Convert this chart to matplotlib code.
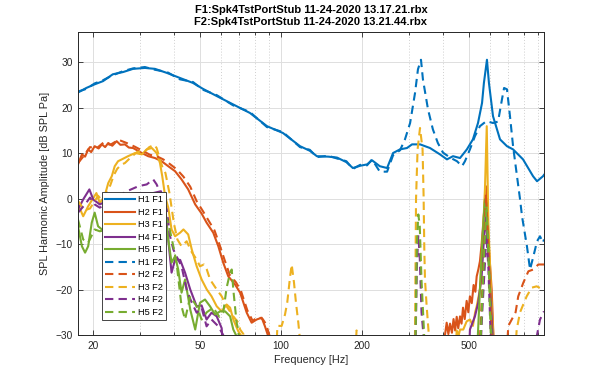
import matplotlib
matplotlib.use("Agg")
import matplotlib.pyplot as plt
from matplotlib.ticker import FixedLocator, NullFormatter, FixedFormatter

plt.rcParams['font.family'] = ['Liberation Sans', 'DejaVu Sans']

# ---------------- data (frequency [Hz], amplitude [dB]) ----------------
h1f1_f = [17.6, 18.9, 20.3, 21.8, 23.7, 25.9, 28.2, 31.2, 34.0, 37.7, 42.1, 47.1, 51.3, 57.8, 66.3, 76.7, 88.7, 101.7, 117.7, 128, 136, 150, 161.5, 175, 185, 197, 209, 218, 233, 248, 261, 277, 294, 307, 329, 358, 390, 414, 436, 463, 491, 517, 540, 559, 568, 583, 593, 614, 652, 692, 729, 794, 865, 895, 942, 950]
h1f1_v = [23.3, 24.3, 25.1, 25.8, 27.3, 27.8, 28.5, 28.7, 28.5, 27.6, 26.5, 25.4, 24.1, 22.5, 20.7, 18.8, 15.9, 14.4, 11.5, 10.5, 9.3, 9.2, 9.0, 8.0, 6.7, 7.2, 7.5, 8.4, 7.1, 6.7, 10.0, 10.8, 11.1, 11.9, 11.9, 11.1, 9.7, 8.6, 9.3, 8.9, 10.8, 13.0, 16.6, 21.0, 25.4, 30.5, 25.4, 18.1, 13.0, 11.5, 10.8, 8.6, 4.9, 3.8, 4.9, 5.2]

h1f2_f = [17.6, 18.9, 20.3, 21.8, 23.7, 25.9, 28.2, 31.2, 34.0, 37.7, 42.1, 47.1, 51.3, 57.8, 66.3, 76.7, 88.7, 101.7, 117.7, 128, 136, 150, 161.5, 175, 185, 197, 209, 218, 233, 248, 261, 277, 289, 302, 315, 323, 331.5, 337, 352, 367, 383, 400, 425, 451, 471, 483, 504, 526, 549, 580, 614, 641, 663, 675, 692, 710, 729, 754, 774, 787, 821, 843, 865, 880, 895, 918, 942, 950]
h1f2_v = [23.5, 24.1, 25.3, 26.0, 27.1, 28.0, 28.6, 28.9, 28.3, 27.8, 26.2, 25.6, 23.9, 22.7, 20.5, 19.0, 15.7, 14.6, 11.3, 10.7, 9.1, 9.4, 8.8, 8.2, 6.5, 7.4, 7.3, 8.6, 5.9, 5.9, 9.5, 10.6, 13.0, 16.6, 23.2, 28.4, 30.5, 26.2, 19.6, 15.2, 12.2, 10.1, 9.0, 8.2, 7.1, 8.2, 10.8, 13.7, 15.9, 17.0, 16.6, 16.9, 21.8, 24.3, 24.0, 18.1, 11.5, 4.9, -0.2, -3.9, -10.5, -15.6, -13.0, -11.2, -9.4, -8.3, -9.7, -9.0]

h2f1_f = [17.6, 18.2, 18.7, 19.2, 19.7, 20.3, 21.0, 21.6, 22.2, 22.8, 23.6, 24.5, 25.3, 26.3, 27.2, 28.2, 30.4, 32.1, 34.0, 36.0, 38.1, 40.4, 42.7, 45.2, 48.0, 50.7, 52.9, 56.0, 58.5, 61.0, 63.7, 67.5, 70.5, 74.6, 77.8, 81.2, 84.8, 87.2, 89.7, 92, 400, 407, 413, 419, 425, 432, 438, 444, 450, 456, 463, 469, 475, 482, 490, 497, 504, 512, 520, 528, 534, 542, 549, 557, 565, 578, 590, 607, 616, 625]
h2f1_v = [7.5, 9.7, 9.2, 10.8, 10.2, 11.5, 11.0, 11.9, 11.3, 12.2, 11.6, 12.6, 11.8, 11.9, 11.2, 11.1, 10.0, 9.3, 8.9, 8.2, 7.1, 6.0, 4.2, 2.0, -1.3, -3.3, -5.3, -7.5, -10.5, -14.1, -17.1, -18.9, -20.7, -25.1, -27.3, -26.6, -26.2, -28.1, -30.3, -40, -40, -30, -27.3, -29.8, -27.5, -29.5, -26.5, -29, -26, -28.5, -25.9, -27.5, -24, -26.5, -22.5, -25, -21.5, -23, -19, -20.5, -17.1, -15.5, -13.8, -10, -5.3, 2.7, -9, -20, -30, -40]

h2f2_f = [17.6, 18.4, 19.5, 20.6, 21.9, 23.2, 24.9, 26.7, 28.6, 30.8, 32.6, 34.5, 36.5, 38.6, 41.0, 43.4, 46.0, 48.6, 51.3, 53.5, 56.6, 59.0, 61.8, 64.5, 68.0, 71.0, 75.0, 78.5, 82.0, 85.5, 88.0, 90.5, 93, 540, 555, 568, 578, 590, 602, 615, 680, 700, 745, 762, 796, 831, 867, 905, 950]
h2f2_v = [7.8, 9.2, 11.3, 11.0, 12.3, 11.8, 12.9, 12.2, 11.4, 10.4, 9.6, 9.3, 8.6, 7.6, 6.4, 4.8, 2.6, -0.6, -2.8, -4.6, -7.0, -10.0, -13.6, -16.8, -18.4, -20.3, -24.6, -26.9, -26.0, -26.5, -27.6, -30.0, -40, -40, -25, -12, 1.0, -10, -24, -40, -40, -28, -25, -21.5, -18.5, -16, -15.6, -14.5, -14.5]

h3f1_f = [17.6, 18.4, 19.2, 20.6, 21.2, 22.1, 22.8, 23.5, 24.1, 24.8, 25.6, 27.0, 28.7, 30.4, 31.7, 33.1, 34.5, 35.5, 36.2, 37.1, 38.1, 39.2, 40.4, 42.2, 43.4, 45.2, 46.6, 48.6, 50.7, 53.0, 55.2, 57.7, 60.2, 62.8, 64.7, 66.5, 69.4, 71.4, 74, 440, 450, 458, 463, 476, 490, 504, 517, 527, 534, 549, 562, 573, 582, 590, 607, 616, 625]
h3f1_v = [-1.3, -3.9, -1.7, 1.2, -1.0, 0.5, 3.4, 4.9, 7.1, 8.2, 8.6, 9.3, 10.0, 9.7, 10.8, 11.1, 10.0, 7.8, 4.9, 0.5, -2.0, -6.8, -8.3, -7.5, -6.8, -7.9, -11.2, -14.9, -17.8, -20.0, -21.5, -23.7, -24.8, -23.3, -24.0, -26.6, -29.2, -30.3, -40, -40, -29, -30, -28.8, -28.8, -27, -26.6, -28, -25, -23.7, -20, -9, 2, 15.9, -5.3, -23.7, -30, -40]

h3f2_f = [17.6, 18.6, 19.5, 20.9, 21.6, 22.5, 23.2, 23.9, 24.6, 25.4, 26.3, 27.6, 29.3, 31.0, 32.4, 33.8, 34.5, 35.2, 36.2, 37.2, 38.5, 40.0, 41.2, 42.7, 44.6, 46.6, 48.6, 50.0, 51.7, 53.0, 54.5, 57.7, 60.2, 62.8, 66.5, 69.4, 70.5, 72.5, 74, 95, 97, 100.6, 103.5, 105.5, 108, 109.6, 111.8, 113.7, 116, 117.2, 119, 186, 191, 196, 312, 315, 317.7, 319.6, 322, 328.7, 336, 339, 341, 343, 348, 354, 360, 730, 752, 774, 819, 855, 892, 944, 950]
h3f2_v = [-0.5, -2.6, -2.2, 0.6, -0.4, 1.6, 2.9, 5.1, 6.5, 7.4, 7.8, 9.0, 10.3, 10.2, 11.3, 11.8, 11.1, 9.3, 7.0, 5.6, 1.2, -5.5, -9.0, -10.5, -9.4, -11.8, -13.4, -14.9, -14.5, -15.6, -17.8, -20, -21.5, -23.7, -25.9, -27.3, -28.8, -29.8, -40, -40, -28, -28, -25.5, -22.9, -17.4, -14.5, -18.5, -22.9, -27.3, -30, -40, -40, -29, -40, -40, -29.5, -0.2, 4.9, 10.8, 15.5, 10.8, 0.5, -11, -17.8, -23.7, -29.5, -40, -40, -28.8, -25, -21.5, -19.6, -19.3, -20, -20]

h4f1_f = [17.6, 18.4, 19.4, 20.05, 21.2, 22.5, 24.5, 26.7, 29.9, 33.5, 35.8, 37.1, 38.1, 39.2, 40.4, 42.2, 44.0, 46.0, 48.6, 50.7, 52.9, 55.2, 57.7, 60.2, 62, 495, 504, 526, 541, 557, 568, 578, 590, 603, 612, 620]
h4f1_v = [-2.4, -0.2, 2.0, -0.2, -1.3, -0.6, 0.3, 0.9, 1.2, 1.2, 1.6, -1.7, -9.0, -16.3, -13.4, -13.5, -16.3, -20.0, -23.7, -23.5, -26.6, -25.1, -25.9, -28.5, -40, -40, -28.8, -25.9, -22.9, -17.1, -9, -3.9, -12.7, -22.9, -30, -40]

h4f2_f = [17.6, 18.7, 19.5, 20.3, 21.2, 23, 26.5, 29.5, 31.7, 33.5, 34.5, 36.0, 37.6, 38.7, 39.8, 40.9, 42.7, 44.6, 46.6, 48.6, 50.7, 52.9, 55.2, 58.5, 61, 63, 314, 317, 320, 324, 328, 333, 338, 345, 545, 560, 572, 580, 590, 600, 610, 880, 895, 918, 950]
h4f2_v = [-3.1, -1.3, 0.2, -1.3, -2.0, -1.0, 1.5, 2.7, 3.1, 4.2, 3.1, 0.5, -2.4, -8.3, -11.2, -12.7, -14.9, -20.0, -22.9, -25.1, -24.0, -28.1, -26.6, -28.1, -30, -40, -40, -29.5, -15, -8, -13, -25, -29.5, -40, -40, -25, -15, -8, -15, -28, -40, -40, -30, -26.6, -24.8]

h5f1_f = [17.6, 18.2, 18.7, 19.2, 19.8, 20.3, 20.9, 21.6, 26, 30, 34, 37.1, 38.1, 39.2, 40.4, 41.5, 42.7, 44.0, 46.0, 48.0, 50.0, 52.2, 54.5, 56.9, 59.4, 62.0, 64.7, 66.5, 68.4, 70, 530, 549, 562, 573, 580, 590, 605, 612]
h5f1_v = [-6.1, -10.5, -11.9, -10.5, -5.3, -3.1, -6.1, -6.8, -7, -5, -3, -3.1, -9.0, -14.1, -12.7, -15.6, -20.7, -17.8, -24.4, -28.8, -22.9, -22.2, -23.7, -25.5, -24.8, -24.8, -25.9, -28.8, -30.3, -40, -40, -20, -8, -0.2, -1, -10, -28.8, -40]

h5f2_f = [17.6, 18.4, 19.2, 20.3, 21.2, 26, 32, 36, 38.1, 39.8, 40.9, 42.7, 44.0, 46.0, 48.6, 50.7, 53, 56, 59, 61.0, 62.8, 64.7, 65.6, 66.5, 68.4, 69.4, 71, 314, 317, 320, 324, 328, 333, 340, 345, 545, 560, 572, 580, 590, 600, 610]
h5f2_v = [-4.6, -9.0, -9.7, -6.8, -7.2, -6, -3, -2, -5.3, -10.5, -14.1, -23.7, -26.6, -21.5, -23.7, -26.6, -25, -24, -26, -25.1, -19.6, -16.3, -15.6, -20, -27.3, -28.8, -40, -40, -28, -10, -3.5, -6, -18, -29, -40, -40, -22, -9, -2.5, -12, -27, -40]

labels = ['H1 F1', 'H2 F1', 'H3 F1', 'H4 F1', 'H5 F1',
          'H1 F2', 'H2 F2', 'H3 F2', 'H4 F2', 'H5 F2']
x_ticks = [20, 50, 100, 200, 500]
x_minor = [30, 40, 60, 70, 80, 90, 300, 400, 600, 700, 800, 900]
y_ticks = [-30, -20, -10, 0, 10, 20, 30]
title_lines = ['F1:Spk4TstPortStub 11-24-2020 13.17.21.rbx',
               'F2:Spk4TstPortStub 11-24-2020 13.21.44.rbx']

colors = ['#0072BD', '#D95319', '#EDB120', '#7E2F8E', '#77AC30']

series_f1 = [(h1f1_f, h1f1_v), (h2f1_f, h2f1_v), (h3f1_f, h3f1_v), (h4f1_f, h4f1_v), (h5f1_f, h5f1_v)]
series_f2 = [(h1f2_f, h1f2_v), (h2f2_f, h2f2_v), (h3f2_f, h3f2_v), (h4f2_f, h4f2_v), (h5f2_f, h5f2_v)]

# ---------------- figure ----------------
fig = plt.figure(figsize=(6.02, 3.78), dpi=100)
ax = fig.add_axes([78/602, 43/378, 466/602, 303/378])

lines = []
for i, (f, v) in enumerate(series_f1):
    ln, = ax.plot(f, v, color=colors[i], lw=1.5, ls='-', label=labels[i])
    lines.append(ln)
for i, (f, v) in enumerate(series_f2):
    ln, = ax.plot(f, v, color=colors[i], lw=1.5, ls=(0, (4, 2.5)), label=labels[5 + i])
    lines.append(ln)

ax.set_xscale('log')
ax.set_xlim(17.6, 950)
ax.set_ylim(-30, 36.6)

ax.xaxis.set_major_locator(FixedLocator(x_ticks))
ax.xaxis.set_major_formatter(FixedFormatter([str(t) for t in x_ticks]))
ax.xaxis.set_minor_locator(FixedLocator(x_minor))
ax.xaxis.set_minor_formatter(NullFormatter())
ax.yaxis.set_major_locator(FixedLocator(y_ticks))

ax.grid(which='major', color='#dedede', lw=0.7, ls='-')
ax.grid(which='minor', axis='x', color='#cfcfcf', lw=0.7, ls=(0, (1, 2)))
ax.set_axisbelow(True)

axc = '#262626'
for s in ax.spines.values():
    s.set_color(axc)
    s.set_linewidth(0.7)
ax.tick_params(which='both', direction='in', top=True, right=True, colors=axc,
               labelsize=7.3, width=0.6)
ax.tick_params(which='major', length=3.5, pad=4)
ax.tick_params(which='minor', length=2)

ax.set_xlabel('Frequency [Hz]', fontsize=7.8, color=axc, labelpad=3)
ax.set_ylabel('SPL Harmonic Amplitude [dB SPL Pa]', fontsize=7.8, color=axc, labelpad=4)
ax.set_title('\n'.join(title_lines), fontsize=8, fontweight='bold', color='black', pad=5,
             linespacing=1.25)

leg = ax.legend(handles=lines, loc='lower left', bbox_to_anchor=(0.0515, 0.0495),
                borderaxespad=0, fontsize=6.6, handlelength=3.2, handletextpad=0.35,
                labelspacing=0.38, borderpad=0.35, fancybox=False, framealpha=1,
                edgecolor='#262626')
leg.get_frame().set_linewidth(0.6)

fig.savefig('out.png', dpi=100)
